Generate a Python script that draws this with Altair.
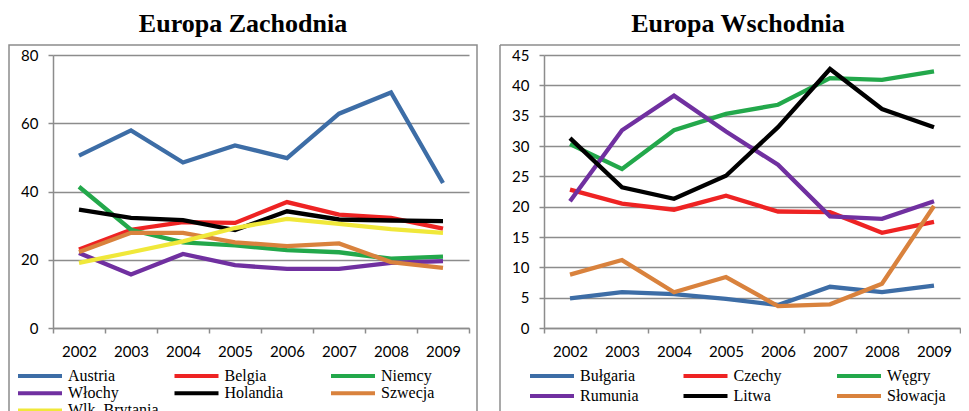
import altair as alt
import pandas as pd

years = ["2002", "2003", "2004", "2005", "2006", "2007", "2008", "2009"]

# Europa Zachodnia
west_countries = ["Austria", "Belgia", "Niemcy", "Włochy", "Holandia", "Szwecja", "Wlk. Brytania"]
austria = [50.5, 57.9, 48.5, 53.5, 49.8, 62.8, 69.0, 42.5]
belgia = [23.0, 28.8, 31.0, 30.8, 36.9, 33.2, 32.3, 29.1]
niemcy = [41.4, 28.8, 25.1, 24.2, 22.8, 22.2, 20.3, 20.9]
wlochy = [22.0, 15.7, 21.7, 18.4, 17.3, 17.3, 19.1, 19.6]
holandia = [34.7, 32.3, 31.6, 28.7, 34.2, 31.8, 31.5, 31.3]
szwecja = [22.3, 27.9, 27.9, 25.1, 24.0, 24.8, 19.3, 17.6]
wlk_brytania = [19.1, 22.2, 25.4, 29.3, 32.0, 30.5, 29.0, 27.9]
west_colors = ["#3D6DA6", "#EE2323", "#23A84B", "#7030A0", "#000000", "#D9823D", "#F0E83A"]

# Europa Wschodnia
east_countries = ["Bułgaria", "Czechy", "Węgry", "Rumunia", "Litwa", "Słowacja"]
bulgaria = [4.9, 5.9, 5.6, 4.8, 3.8, 6.8, 5.9, 7.0]
czechy = [22.8, 20.5, 19.5, 21.8, 19.2, 19.1, 15.7, 17.5]
wegry = [30.3, 26.2, 32.6, 35.3, 36.8, 41.2, 40.9, 42.3]
rumunia = [20.9, 32.6, 38.3, 32.4, 26.9, 18.4, 18.0, 20.9]
litwa = [31.3, 23.2, 21.3, 25.1, 33.1, 42.7, 36.1, 33.1]
slowacja = [8.8, 11.2, 5.9, 8.4, 3.6, 3.9, 7.3, 20.1]
east_colors = ["#3D6DA6", "#EE2323", "#23A84B", "#7030A0", "#000000", "#D9823D"]

W, H = 416, 273
GRAY = "#8C8C8C"


def panel(title, countries, series, colors, ymax, ystep, leg_x, leg_y, col_pad, row_pad,
          full_frame, title_dx):
    rows = []
    for c, vals in zip(countries, series):
        for y, v in zip(years, vals):
            rows.append({"country": c, "year": y, "value": v})
    df = pd.DataFrame(rows)

    lines = alt.Chart(df).mark_line(strokeWidth=4.3).encode(
        x=alt.X(
            "year:O",
            sort=years,
            scale=alt.Scale(paddingInner=0, paddingOuter=0),
            axis=alt.Axis(
                title=None, labelAngle=0, tickBand="extent", grid=False,
                domainColor=GRAY, tickColor=GRAY, tickSize=5, domainWidth=1.5, tickWidth=1.5,
                labelPadding=11, labelFont="Lato", labelFontSize=15, labelColor="black",
            ),
        ),
        y=alt.Y(
            "value:Q",
            scale=alt.Scale(domain=[0, ymax], nice=False),
            axis=alt.Axis(
                title=None, values=list(range(0, ymax + 1, ystep)),
                grid=True, gridColor=GRAY, gridWidth=1.5,
                domainColor=GRAY, tickColor=GRAY, tickSize=5, domainWidth=1.5, tickWidth=1.5,
                labelPadding=10, labelFont="Lato", labelFontSize=15, labelColor="black",
            ),
        ),
        color=alt.Color(
            "country:N",
            sort=countries,
            scale=alt.Scale(domain=countries, range=colors),
            legend=alt.Legend(
                title=None, orient="none", legendX=leg_x, legendY=leg_y,
                direction="horizontal", columns=3, clipHeight=16,
                symbolType="stroke", symbolSize=1936, symbolStrokeWidth=4,
                labelFont="Liberation Serif", labelFontSize=16, labelColor="black",
                labelOffset=4, columnPadding=col_pad, rowPadding=row_pad,
                gridAlign="all", padding=0, labelLimit=300,
            ),
        ),
    )

    fdata = pd.DataFrame({"a": [0]})
    if full_frame:
        frames = [alt.Chart(fdata).mark_rect(
            fillOpacity=0, stroke=GRAY, strokeWidth=1.5
        ).encode(
            x=alt.value(-44), x2=alt.value(W + 8), y=alt.value(-10), y2=alt.value(H + 130)
        )]
    else:
        frames = [
            alt.Chart(fdata).mark_rule(stroke=GRAY, strokeWidth=1.5).encode(
                x=alt.value(-44), x2=alt.value(W), y=alt.value(-10)
            ),
            alt.Chart(fdata).mark_rule(stroke=GRAY, strokeWidth=1.5).encode(
                x=alt.value(-44), y=alt.value(-10), y2=alt.value(H + 130)
            ),
        ]

    return alt.layer(*frames, lines).properties(
        width=W, height=H,
        title=alt.TitleParams(
            text=title, font="Liberation Serif", fontSize=26, fontWeight="bold",
            color="black", anchor="middle", frame="bounds", offset=7, dx=title_dx,
        ),
    )


left = panel("Europa Zachodnia", west_countries,
             [austria, belgia, niemcy, wlochy, holandia, szwecja, wlk_brytania],
             west_colors, 80, 20, -37, 313, 13.5, 1.2, True, 0)
right = panel("Europa Wschodnia", east_countries,
              [bulgaria, czechy, wegry, rumunia, litwa, slowacja],
              east_colors, 45, 5, -16, 313, 42.5, 4, False, 8)

chart = (
    alt.hconcat(left, right, spacing=21)
    .resolve_scale(color="independent")
    .resolve_legend(color="independent")
    .properties(padding={"top": 3, "left": 0, "right": 0, "bottom": 0})
    .configure_view(stroke=None)
)

chart.save("out.html", embed_options={"renderer": "svg", "actions": False})
